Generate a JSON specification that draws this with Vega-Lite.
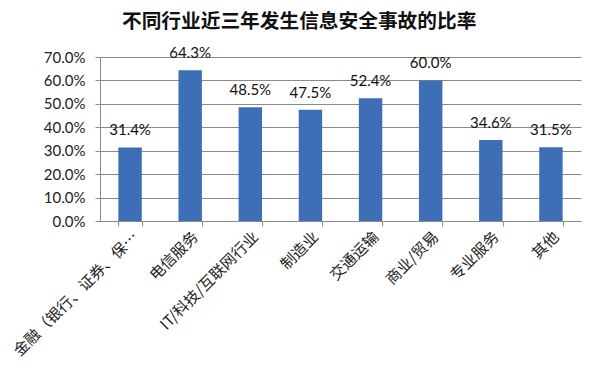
{
  "$schema": "https://vega.github.io/schema/vega-lite/v6.json",
  "width": 481,
  "height": 164,
  "autosize": "none",
  "padding": {"left": 100, "top": 57, "right": 19, "bottom": 151},
  "background": "white",
  "title": {
    "text": "不同行业近三年发生信息安全事故的比率",
    "font": "Noto Sans CJK SC",
    "fontSize": 19.7,
    "fontWeight": "bold",
    "color": "#111111",
    "anchor": "start",
    "frame": "group",
    "dx": 22,
    "offset": 14.5
  },
  "data": {
    "values": [
      {"industry": "金融（银行、证券、保…", "rate": 0.314},
      {"industry": "电信服务", "rate": 0.643},
      {"industry": "IT/科技/互联网行业", "rate": 0.485},
      {"industry": "制造业", "rate": 0.475},
      {"industry": "交通运输", "rate": 0.524},
      {"industry": "商业/贸易", "rate": 0.600},
      {"industry": "专业服务", "rate": 0.346},
      {"industry": "其他", "rate": 0.315}
    ]
  },
  "encoding": {
    "x": {
      "field": "industry",
      "type": "nominal",
      "sort": null,
      "scale": {"paddingInner": 0.61, "paddingOuter": 0.305},
      "axis": {
        "title": null,
        "labelAngle": -45,
        "labelAlign": "right",
        "labelBaseline": "top",
        "labelFont": "Noto Sans CJK SC",
        "labelFontSize": 15.3,
        "labelColor": "#222222",
        "labelPadding": 3,
        "labelLimit": 300,
        "labelOverlap": false,
        "tickBand": "extent",
        "tickSize": 5,
        "tickColor": "#8a8a8a",
        "domainColor": "#8a8a8a",
        "grid": false
      }
    },
    "y": {
      "field": "rate",
      "type": "quantitative",
      "scale": {"domain": [0, 0.7], "nice": false},
      "axis": {
        "title": null,
        "format": ".1%",
        "values": [0, 0.1, 0.2, 0.3, 0.4, 0.5, 0.6, 0.7],
        "labelFont": "Lato",
        "labelFontSize": 15,
        "labelColor": "#222222",
        "labelPadding": 10,
        "tickSize": 5,
        "tickColor": "#8a8a8a",
        "domainColor": "#8a8a8a",
        "gridColor": "#8a8a8a",
        "gridWidth": 1
      }
    }
  },
  "layer": [
    {"mark": {"type": "bar", "color": "#3E6FB6"}},
    {
      "mark": {"type": "text", "baseline": "middle", "dy": -17, "font": "Lato", "fontSize": 15, "color": "#111111"},
      "encoding": {"text": {"field": "rate", "format": ".1%"}}
    }
  ],
  "config": {"view": {"stroke": null}}
}
